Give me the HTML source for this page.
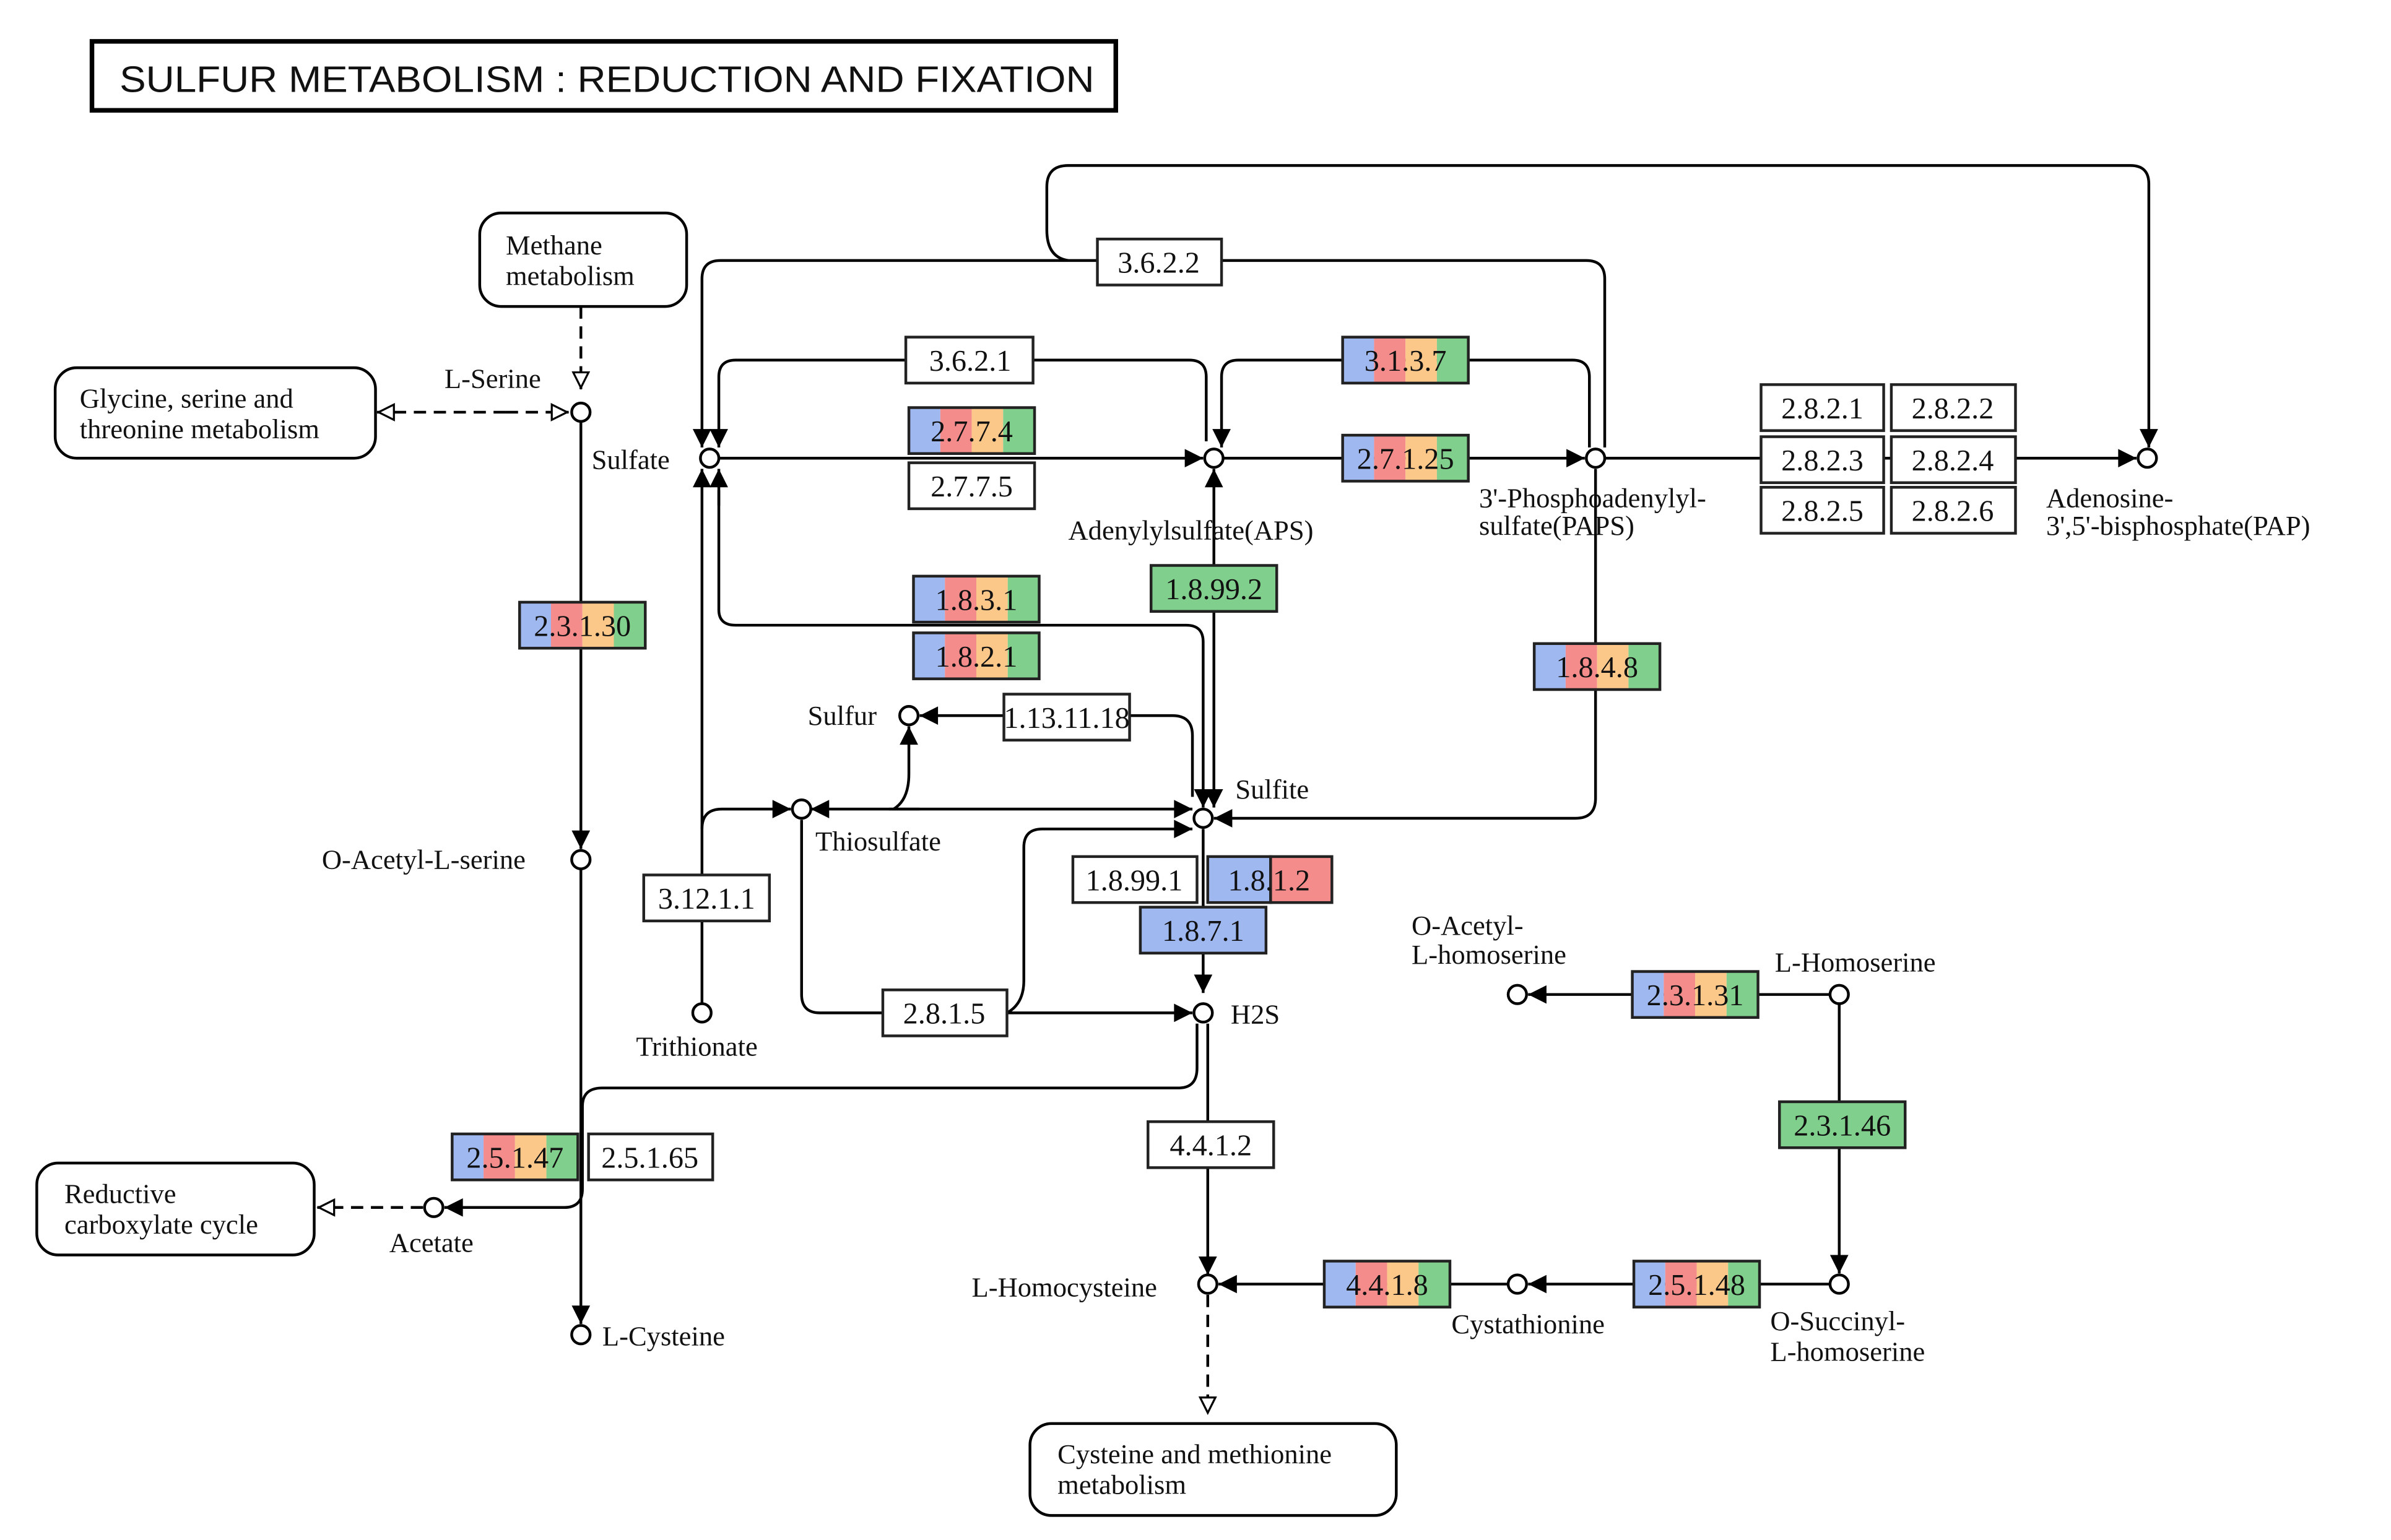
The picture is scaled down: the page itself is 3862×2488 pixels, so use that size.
<!DOCTYPE html>
<html><head><meta charset="utf-8"><style>
html,body{margin:0;padding:0;background:#fff;}
svg{display:block;}
text{font-family:"Liberation Serif",serif;font-size:18px;fill:#111;}
.e{text-anchor:middle;font-size:19.5px;}
</style></head><body>
<svg width="3862" height="2488" viewBox="0 0 1560 1005" preserveAspectRatio="none" xmlns="http://www.w3.org/2000/svg">
<defs>
<marker id="a" viewBox="0 0 12 12" refX="12" refY="6" markerWidth="13" markerHeight="12" markerUnits="userSpaceOnUse" orient="auto"><path d="M0,0 L12,6 L0,12 Z" fill="#000"/></marker>
<marker id="h" viewBox="0 0 12 12" refX="12" refY="6" markerWidth="13" markerHeight="12" markerUnits="userSpaceOnUse" orient="auto"><path d="M1,1 L11,6 L1,11 Z" fill="#fff" stroke="#000" stroke-width="1.3"/></marker>
</defs>
<rect width="1560" height="1005" fill="#fff"/>
<rect x="60" y="27" width="668" height="45" fill="#fff" stroke="#000" stroke-width="3"/>
<text x="78" y="60" style="font-family:'Liberation Sans',sans-serif;font-size:24px" textLength="636" lengthAdjust="spacingAndGlyphs">SULFUR METABOLISM : REDUCTION AND FIXATION</text>

<g fill="none" stroke="#000" stroke-width="1.8">
<rect x="313" y="139" width="135" height="61" rx="14"/>
<rect x="36" y="240" width="209" height="59" rx="14"/>
<rect x="24" y="759" width="181" height="60" rx="14"/>
<rect x="672" y="929" width="239" height="60" rx="14"/>
<path d="M379,200 V254" stroke-dasharray="8,5" marker-end="url(#h)"/>
<path d="M330,269 H371" stroke-dasharray="8,5" marker-end="url(#h)"/>
<path d="M330,269 H246" stroke-dasharray="8,5" marker-end="url(#h)"/>
<path d="M276,788 H207" stroke-dasharray="8,5" marker-end="url(#h)"/>
<path d="M788,845 V923" stroke-dasharray="8,5" marker-end="url(#h)"/>
<path d="M379,275 V554" marker-end="url(#a)"/>
<path d="M379,567 V864" marker-end="url(#a)"/>
<path d="M469,299 H785" marker-end="url(#a)"/>
<path d="M798,299 H1034" marker-end="url(#a)"/>
<path d="M1047,299 H1394" marker-end="url(#a)"/>
<path d="M787,288 V246 Q787,235 776,235 H480 Q469,235 469,246 V292" marker-end="url(#a)"/>
<path d="M1047,292 V182 Q1047,170 1035,170 H470 Q458,170 458,182 V292" marker-end="url(#a)"/>
<path d="M697,170 Q683,168 683,150 V122 Q683,108 697,108 H1390 Q1402,108 1402,120 V292" marker-end="url(#a)"/>
<path d="M1037,292 V246 Q1037,235 1026,235 H808 Q797,235 797,246 V292" marker-end="url(#a)"/>
<path d="M792,400 V306" marker-end="url(#a)"/>
<path d="M792,380 V527" marker-end="url(#a)"/>
<path d="M469,330 V306" marker-end="url(#a)"/>
<path d="M469,320 V398 Q469,408 480,408 H774 Q785,408 785,419 V527" marker-end="url(#a)"/>
<path d="M458,661 V306" marker-end="url(#a)"/>
<path d="M458,541 Q458,528 471,528 H516" marker-end="url(#a)"/>
<path d="M778,520 V480 Q778,467 765,467 H600" marker-end="url(#a)"/>
<path d="M583,528 Q593,522 593,505 V474" marker-end="url(#a)"/>
<path d="M600,528 H529" marker-end="url(#a)"/>
<path d="M580,528 H778" marker-end="url(#a)"/>
<path d="M1041,306 V521 Q1041,534 1028,534 H792" marker-end="url(#a)"/>
<path d="M523,535 V649 Q523,661 535,661 H778" marker-end="url(#a)"/>
<path d="M657,661 Q668,655 668,640 V553 Q668,541 680,541 H778" marker-end="url(#a)"/>
<path d="M785,541 V648" marker-end="url(#a)"/>
<path d="M781,668 V697 Q781,710 769,710 H393 Q380,710 380,722 V776 Q380,788 368,788 H290" marker-end="url(#a)"/>
<path d="M788,668 V832" marker-end="url(#a)"/>
<path d="M984,838 H795" marker-end="url(#a)"/>
<path d="M1194,838 H997" marker-end="url(#a)"/>
<path d="M1200,655 V831" marker-end="url(#a)"/>
<path d="M1194,649 H997" marker-end="url(#a)"/>
</g>

<g fill="#fff" stroke="#000" stroke-width="1.8">
<circle cx="379" cy="269" r="6"/><circle cx="463" cy="299" r="6"/><circle cx="792" cy="299" r="6"/>
<circle cx="1041" cy="299" r="6"/><circle cx="1401" cy="299" r="6"/><circle cx="379" cy="561" r="6"/>
<circle cx="593" cy="467" r="6"/><circle cx="523" cy="528" r="6"/><circle cx="785" cy="534" r="6"/>
<circle cx="458" cy="661" r="6"/><circle cx="785" cy="661" r="6"/><circle cx="283" cy="788" r="6"/>
<circle cx="379" cy="871" r="6"/><circle cx="788" cy="838" r="6"/><circle cx="990" cy="838" r="6"/>
<circle cx="1200" cy="838" r="6"/><circle cx="1200" cy="649" r="6"/><circle cx="990" cy="649" r="6"/>
</g>

<g stroke="#222" stroke-width="1.8">
<rect x="716" y="156" width="81" height="30" fill="#fff"/>
<rect x="591" y="220" width="83" height="30" fill="#fff"/>
<rect x="593" y="302" width="82" height="30" fill="#fff"/>
<rect x="1149" y="251" width="80" height="30" fill="#fff"/><rect x="1234" y="251" width="81" height="30" fill="#fff"/>
<rect x="1149" y="285" width="80" height="30" fill="#fff"/><rect x="1234" y="285" width="81" height="30" fill="#fff"/>
<rect x="1149" y="318" width="80" height="30" fill="#fff"/><rect x="1234" y="318" width="81" height="30" fill="#fff"/>
<rect x="655" y="453" width="82" height="30" fill="#fff"/>
<rect x="420" y="571" width="82" height="30" fill="#fff"/>
<rect x="700" y="559" width="81" height="30" fill="#fff"/>
<rect x="576" y="646" width="81" height="30" fill="#fff"/>
<rect x="384" y="740" width="81" height="30" fill="#fff"/>
<rect x="749" y="732" width="82" height="30" fill="#fff"/>
<rect x="751" y="369" width="82" height="30" fill="#80cf8c"/>
<rect x="1161" y="719" width="82" height="30" fill="#80cf8c"/>
<rect x="744" y="592" width="82" height="30" fill="#9fb8f0"/>
<rect x="788" y="559" width="41" height="30" fill="#9fb8f0"/><rect x="829" y="559" width="40" height="30" fill="#f48c8c"/>
</g>
<g stroke="none">
<g transform="translate(876,220)"><rect width="20.5" height="30" fill="#9fb8f0"/><rect x="20.5" width="20.5" height="30" fill="#f48c8c"/><rect x="41" width="20.5" height="30" fill="#fcc88a"/><rect x="61.5" width="20.5" height="30" fill="#80cf8c"/><rect width="82" height="30" fill="none" stroke="#222" stroke-width="1.8"/></g>
<g transform="translate(593,266)"><rect width="20.5" height="30" fill="#9fb8f0"/><rect x="20.5" width="20.5" height="30" fill="#f48c8c"/><rect x="41" width="20.5" height="30" fill="#fcc88a"/><rect x="61.5" width="20.5" height="30" fill="#80cf8c"/><rect width="82" height="30" fill="none" stroke="#222" stroke-width="1.8"/></g>
<g transform="translate(876,284)"><rect width="20.5" height="30" fill="#9fb8f0"/><rect x="20.5" width="20.5" height="30" fill="#f48c8c"/><rect x="41" width="20.5" height="30" fill="#fcc88a"/><rect x="61.5" width="20.5" height="30" fill="#80cf8c"/><rect width="82" height="30" fill="none" stroke="#222" stroke-width="1.8"/></g>
<g transform="translate(596,376)"><rect width="20.5" height="30" fill="#9fb8f0"/><rect x="20.5" width="20.5" height="30" fill="#f48c8c"/><rect x="41" width="20.5" height="30" fill="#fcc88a"/><rect x="61.5" width="20.5" height="30" fill="#80cf8c"/><rect width="82" height="30" fill="none" stroke="#222" stroke-width="1.8"/></g>
<g transform="translate(596,413)"><rect width="20.5" height="30" fill="#9fb8f0"/><rect x="20.5" width="20.5" height="30" fill="#f48c8c"/><rect x="41" width="20.5" height="30" fill="#fcc88a"/><rect x="61.5" width="20.5" height="30" fill="#80cf8c"/><rect width="82" height="30" fill="none" stroke="#222" stroke-width="1.8"/></g>
<g transform="translate(339,393)"><rect width="20.5" height="30" fill="#9fb8f0"/><rect x="20.5" width="20.5" height="30" fill="#f48c8c"/><rect x="41" width="20.5" height="30" fill="#fcc88a"/><rect x="61.5" width="20.5" height="30" fill="#80cf8c"/><rect width="82" height="30" fill="none" stroke="#222" stroke-width="1.8"/></g>
<g transform="translate(1001,420)"><rect width="20.5" height="30" fill="#9fb8f0"/><rect x="20.5" width="20.5" height="30" fill="#f48c8c"/><rect x="41" width="20.5" height="30" fill="#fcc88a"/><rect x="61.5" width="20.5" height="30" fill="#80cf8c"/><rect width="82" height="30" fill="none" stroke="#222" stroke-width="1.8"/></g>
<g transform="translate(1065,634)"><rect width="20.5" height="30" fill="#9fb8f0"/><rect x="20.5" width="20.5" height="30" fill="#f48c8c"/><rect x="41" width="20.5" height="30" fill="#fcc88a"/><rect x="61.5" width="20.5" height="30" fill="#80cf8c"/><rect width="82" height="30" fill="none" stroke="#222" stroke-width="1.8"/></g>
<g transform="translate(295,740)"><rect width="20.5" height="30" fill="#9fb8f0"/><rect x="20.5" width="20.5" height="30" fill="#f48c8c"/><rect x="41" width="20.5" height="30" fill="#fcc88a"/><rect x="61.5" width="20.5" height="30" fill="#80cf8c"/><rect width="82" height="30" fill="none" stroke="#222" stroke-width="1.8"/></g>
<g transform="translate(864,823)"><rect width="20.5" height="30" fill="#9fb8f0"/><rect x="20.5" width="20.5" height="30" fill="#f48c8c"/><rect x="41" width="20.5" height="30" fill="#fcc88a"/><rect x="61.5" width="20.5" height="30" fill="#80cf8c"/><rect width="82" height="30" fill="none" stroke="#222" stroke-width="1.8"/></g>
<g transform="translate(1066,823)"><rect width="20.5" height="30" fill="#9fb8f0"/><rect x="20.5" width="20.5" height="30" fill="#f48c8c"/><rect x="41" width="20.5" height="30" fill="#fcc88a"/><rect x="61.5" width="20.5" height="30" fill="#80cf8c"/><rect width="82" height="30" fill="none" stroke="#222" stroke-width="1.8"/></g>
</g>

<g>
<text class="e" x="756" y="178">3.6.2.2</text>
<text class="e" x="633" y="242">3.6.2.1</text>
<text class="e" x="917" y="242">3.1.3.7</text>
<text class="e" x="634" y="288">2.7.7.4</text>
<text class="e" x="634" y="324">2.7.7.5</text>
<text class="e" x="917" y="306">2.7.1.25</text>
<text class="e" x="1189" y="273">2.8.2.1</text><text class="e" x="1274" y="273">2.8.2.2</text>
<text class="e" x="1189" y="307">2.8.2.3</text><text class="e" x="1274" y="307">2.8.2.4</text>
<text class="e" x="1189" y="340">2.8.2.5</text><text class="e" x="1274" y="340">2.8.2.6</text>
<text class="e" x="792" y="391">1.8.99.2</text>
<text class="e" x="637" y="398">1.8.3.1</text>
<text class="e" x="637" y="435">1.8.2.1</text>
<text class="e" x="380" y="415">2.3.1.30</text>
<text class="e" x="1042" y="442">1.8.4.8</text>
<text class="e" x="696" y="475">1.13.11.18</text>
<text class="e" x="461" y="593">3.12.1.1</text>
<text class="e" x="740" y="581">1.8.99.1</text>
<text class="e" x="828" y="581">1.8.1.2</text>
<text class="e" x="785" y="614">1.8.7.1</text>
<text class="e" x="616" y="668">2.8.1.5</text>
<text class="e" x="1106" y="656">2.3.1.31</text>
<text class="e" x="1202" y="741">2.3.1.46</text>
<text class="e" x="336" y="762">2.5.1.47</text>
<text class="e" x="424" y="762">2.5.1.65</text>
<text class="e" x="790" y="754">4.4.1.2</text>
<text class="e" x="905" y="845">4.4.1.8</text>
<text class="e" x="1107" y="845">2.5.1.48</text>
</g>

<text x="330" y="166">Methane</text><text x="330" y="186">metabolism</text>
<text x="52" y="266">Glycine, serine and</text><text x="52" y="286">threonine metabolism</text>
<text x="42" y="785">Reductive</text><text x="42" y="805">carboxylate cycle</text>
<text x="690" y="955">Cysteine and methionine</text><text x="690" y="975">metabolism</text>
<text x="290" y="253">L-Serine</text>
<text x="386" y="306">Sulfate</text>
<text x="697" y="352">Adenylylsulfate(APS)</text>
<text x="965" y="331">3'-Phosphoadenylyl-</text><text x="965" y="349">sulfate(PAPS)</text>
<text x="1335" y="331">Adenosine-</text><text x="1335" y="349">3',5'-bisphosphate(PAP)</text>
<text x="210" y="567">O-Acetyl-L-serine</text>
<text x="527" y="473">Sulfur</text>
<text x="532" y="555">Thiosulfate</text>
<text x="806" y="521">Sulfite</text>
<text x="415" y="689">Trithionate</text>
<text x="803" y="668">H2S</text>
<text x="254" y="817">Acetate</text>
<text x="393" y="878">L-Cysteine</text>
<text x="634" y="846">L-Homocysteine</text>
<text x="947" y="870">Cystathionine</text>
<text x="1155" y="868">O-Succinyl-</text><text x="1155" y="888">L-homoserine</text>
<text x="1158" y="634">L-Homoserine</text>
<text x="921" y="610">O-Acetyl-</text><text x="921" y="629">L-homoserine</text>
</svg>
</body></html>
